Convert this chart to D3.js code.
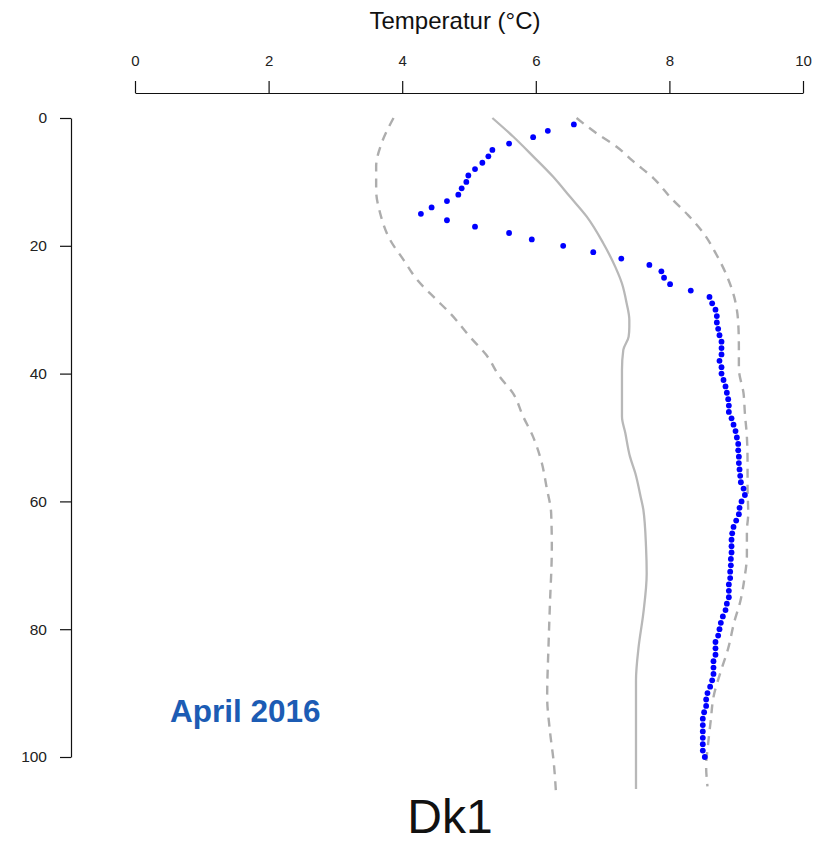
<!DOCTYPE html>
<html>
<head>
<meta charset="utf-8">
<script src="https://cdn.jsdelivr.net/npm/d3@7/dist/d3.min.js"></script>
<style>
  html, body { margin: 0; padding: 0; background: #fff; }
  svg { display: block; }
  text { font-family: "Liberation Sans", Arial, sans-serif; }
</style>
</head>
<body>
<svg id="chart" width="822" height="844"></svg>
<script>
// Temperature profile, station Dk1, April 2016
const xTicks = [0, 2, 4, 6, 8, 10];
const yTicks = [0, 20, 40, 60, 80, 100];

// Measured profile (one reading per metre)
const obsDepth = [
  1, 2, 3, 4, 5, 6, 7, 8, 9, 10,
  11, 12, 13, 14, 15, 16, 17, 18, 19, 20,
  21, 22, 23, 24, 25, 26, 27, 28, 29, 30,
  31, 32, 33, 34, 35, 36, 37, 38, 39, 40,
  41, 42, 43, 44, 45, 46, 47, 48, 49, 50,
  51, 52, 53, 54, 55, 56, 57, 58, 59, 60,
  61, 62, 63, 64, 65, 66, 67, 68, 69, 70,
  71, 72, 73, 74, 75, 76, 77, 78, 79, 80,
  81, 82, 83, 84, 85, 86, 87, 88, 89, 90,
  91, 92, 93, 94, 95, 96, 97, 98, 99, 100
];
const obsTemp = [
  6.57, 6.18, 5.96, 5.60, 5.35, 5.29, 5.20, 5.09, 4.99, 4.96,
  4.89, 4.84, 4.67, 4.44, 4.28, 4.67, 5.09, 5.60, 5.94, 6.41,
  6.86, 7.28, 7.70, 7.88, 7.92, 8.01, 8.32, 8.60, 8.64, 8.69,
  8.71, 8.71, 8.73, 8.75, 8.78, 8.78, 8.78, 8.75, 8.78, 8.78,
  8.81, 8.84, 8.86, 8.88, 8.89, 8.89, 8.93, 8.96, 8.99, 9.01,
  9.03, 9.03, 9.04, 9.04, 9.05, 9.06, 9.07, 9.11, 9.13, 9.08,
  9.05, 9.04, 9.00, 8.96, 8.94, 8.93, 8.93, 8.93, 8.92, 8.92,
  8.91, 8.91, 8.89, 8.89, 8.89, 8.86, 8.84, 8.80, 8.77, 8.75,
  8.73, 8.69, 8.69, 8.69, 8.66, 8.66, 8.66, 8.64, 8.61, 8.57,
  8.55, 8.55, 8.52, 8.50, 8.50, 8.50, 8.50, 8.50, 8.50, 8.53
];

// Climatological mean profile
const meanDepth = [0, 2.9, 6.0, 9.2, 12.3, 15.4, 19.6, 23.3, 25.9, 29, 31.6, 32.7, 34.2, 36.3, 39.4, 46.7, 49.3, 53, 55.6, 59.3, 61.3, 67.1, 71.3, 77.5, 82.7, 88, 105];
const meanTemp  = [5.35, 5.66, 5.96, 6.26, 6.51, 6.76, 7.01, 7.19, 7.29, 7.36, 7.40, 7.40, 7.39, 7.31, 7.29, 7.29, 7.34, 7.41, 7.49, 7.57, 7.61, 7.65, 7.66, 7.61, 7.54, 7.50, 7.50];

// Lower envelope
const lowDepth = [0, 4, 7.6, 11.3, 14.9, 19.1, 22.2, 25.4, 28.2, 30.7, 34.2, 37.1, 40.5, 43.1, 46.7, 49.9, 54, 57.7, 61.9, 67.1, 76.5, 82.7, 90.6, 95.8, 101, 105.2];
const lowTemp  = [3.87, 3.69, 3.61, 3.61, 3.67, 3.82, 4.02, 4.23, 4.49, 4.73, 5.01, 5.26, 5.46, 5.66, 5.81, 5.96, 6.09, 6.16, 6.23, 6.24, 6.21, 6.19, 6.17, 6.21, 6.27, 6.30];

// Upper envelope
const highDepth = [0, 2.4, 4.5, 6.8, 9.4, 12.6, 15.2, 18, 21.1, 24.7, 28, 32, 35.7, 39.2, 43.1, 46.2, 49.9, 54, 57.7, 61.9, 64.7, 68.4, 72.3, 75.7, 78.9, 83, 86.9, 90.6, 94.2, 97.9, 101.5, 104.6];
const highTemp  = [6.61, 6.91, 7.21, 7.46, 7.76, 8.03, 8.28, 8.51, 8.69, 8.86, 8.97, 9.03, 9.04, 9.04, 9.11, 9.13, 9.16, 9.17, 9.17, 9.18, 9.16, 9.16, 9.12, 9.06, 8.97, 8.88, 8.76, 8.66, 8.62, 8.58, 8.55, 8.57];

const svg = d3.select("#chart");

const x = d3.scaleLinear().domain([0, 10]).range([135, 803]);
const y = d3.scaleLinear().domain([0, 100]).range([118, 757]);

// Axes
const xAxis = d3.axisTop(x).tickValues(xTicks).tickSize(12).tickSizeOuter(0).tickPadding(15).tickFormat(d3.format("d"));
const gx = svg.append("g").attr("transform", "translate(0,93)").call(xAxis);
gx.selectAll("text").attr("font-size", 15).attr("fill", "#222").attr("font-family", "Liberation Sans, Arial, sans-serif");
gx.selectAll("line, path").attr("stroke", "#111").attr("stroke-width", 1.2);

const yAxis = d3.axisLeft(y).tickValues(yTicks).tickSize(11).tickSizeOuter(0).tickPadding(13).tickFormat(d3.format("d"));
const gy = svg.append("g").attr("transform", "translate(71,0)").call(yAxis);
gy.selectAll("text").attr("font-size", 15.5).attr("fill", "#222").attr("font-family", "Liberation Sans, Arial, sans-serif");
gy.selectAll("line, path").attr("stroke", "#111").attr("stroke-width", 1.2);

// Axis title
svg.append("text")
  .attr("x", 455).attr("y", 29)
  .attr("text-anchor", "middle")
  .attr("font-size", 24)
  .attr("fill", "#111")
  .text("Temperatur (°C)");

// Profile lines
const line = d3.line()
  .x(d => x(d[1]))
  .y(d => y(d[0]))
  .curve(d3.curveMonotoneY);

const zip = (a, b) => a.map((v, i) => [v, b[i]]);

svg.append("path")
  .attr("d", line(zip(lowDepth, lowTemp)))
  .attr("fill", "none").attr("stroke", "#adadad").attr("stroke-width", 2.4)
  .attr("stroke-dasharray", "9,7");

svg.append("path")
  .attr("d", line(zip(highDepth, highTemp)))
  .attr("fill", "none").attr("stroke", "#adadad").attr("stroke-width", 2.4)
  .attr("stroke-dasharray", "9,7");

svg.append("path")
  .attr("d", line(zip(meanDepth, meanTemp)))
  .attr("fill", "none").attr("stroke", "#b8b8b8").attr("stroke-width", 2.3);

// Observations
svg.append("g").selectAll("circle")
  .data(zip(obsDepth, obsTemp))
  .join("circle")
  .attr("cx", d => x(d[1]))
  .attr("cy", d => y(d[0]))
  .attr("r", 2.9)
  .attr("fill", "#0000ff");

// Annotations
svg.append("text")
  .attr("x", 170).attr("y", 722)
  .attr("font-size", 31.5)
  .attr("font-weight", "bold")
  .attr("fill", "#1c5cb4")
  .text("April 2016");

svg.append("text")
  .attr("x", 450).attr("y", 833)
  .attr("text-anchor", "middle")
  .attr("font-size", 48)
  .attr("fill", "#111")
  .text("Dk1");
</script>
</body>
</html>
